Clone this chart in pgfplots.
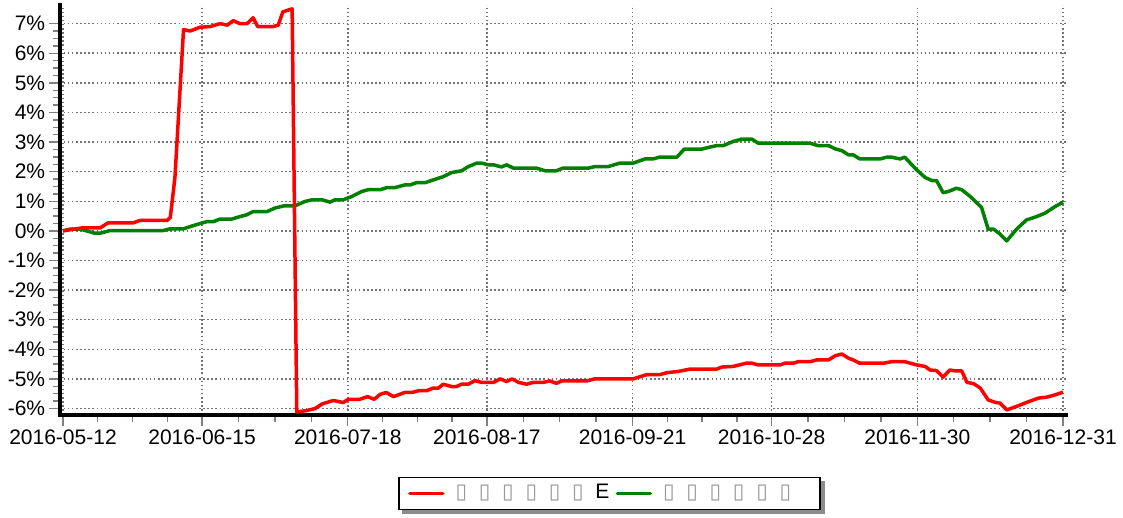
\documentclass[border=0pt]{standalone}
\usepackage{pgfplots}
\pgfplotsset{compat=1.18}
\usepackage{fontspec}
\setmainfont{Liberation Sans}
\newfontfamily\dejavu{DejaVu Sans}
\pgfdeclarelayer{background}
\pgfsetlayers{background,main}
\definecolor{cred}{RGB}{255,0,0}
\definecolor{cgreen}{RGB}{0,128,0}
\newcommand\tofu{\makebox[23.3pt][l]{\textcolor{black!40}{\dejavu ▯}}}
\begin{document}
\begin{tikzpicture}[font=\fontsize{21}{25}\selectfont]
\begin{axis}[
  name=ax,
  scale only axis,
  width=1006.7pt, height=410pt,
  xmin=-0.5, xmax=151.5, ymin=-6.22, ymax=7.63,
  axis x line*=bottom, axis y line*=left,
  axis line style={line width=4pt, black, -, line cap=rect},
  x axis line style={-}, y axis line style={-},
  xtick={0,21,43,64,86,107,129,151},
  xticklabels={2016-05-12,2016-06-15,2016-07-18,2016-08-17,2016-09-21,2016-10-28,2016-11-30,2016-12-31},
  minor xtick={5.25,10.5,15.75,26.5,32,37.5,48.25,53.5,58.75,69.5,75,80.5,91.25,96.5,101.75,112.5,118,123.5,134.5,140,145.5},
  ytick={-6,-5,-4,-3,-2,-1,0,1,2,3,4,5,6,7},
  yticklabels={-6\%,-5\%,-4\%,-3\%,-2\%,-1\%,0\%,1\%,2\%,3\%,4\%,5\%,6\%,7\%},
  minor y tick num=3,
  tick align=outside,
  major tick length=11pt, minor tick length=7pt,
  tick style={black!50, line width=1.4pt},
  tick label style={font=\fontsize{21}{25}\selectfont},
  grid=major,
  major grid style={black!55, line width=1.5pt, dash pattern=on 1.5pt off 2.6pt},
  legend columns=2,
  reverse legend,
  legend cell align=left,
  legend image code/.code={\draw[#1, line width=3.5pt, line cap=round] (0pt,0pt) -- (33pt,0pt);},
  legend style={name=leg, at={(0.5463,-0.192)}, anchor=center, draw=black, line width=1.5pt, fill=white,
    inner xsep=9pt, inner ysep=7pt,
    nodes={inner sep=0pt, text height=14pt, text depth=4pt},
    /tikz/every odd column/.append style={column sep=11pt},
    /tikz/every even column/.append style={column sep=8pt},
    font=\fontsize{21}{25}\selectfont},
]
\addplot[cgreen, line width=3.5pt, line join=round] coordinates {
(0,0) (1.1,0.06) (2.6,0.06) (4.8,-0.08) (5.6,-0.08) (7.1,0.01) (15.1,0.01) (16.2,0.07) (18.2,0.07) (19.7,0.18) (21.7,0.31) (22.7,0.31) (23.7,0.4) (25.5,0.4) (26.7,0.48) (27.7,0.54) (28.7,0.65) (30.8,0.65) (32.0,0.77) (33.3,0.84) (35.0,0.84) (36.5,0.99) (37.6,1.05) (39.1,1.05) (40.3,0.97) (41.1,1.05) (42.3,1.05) (43.6,1.16) (45.1,1.33) (46.1,1.39) (47.9,1.39) (48.9,1.46) (50.1,1.46) (51.6,1.55) (52.4,1.55) (53.4,1.63) (54.7,1.63) (55.9,1.72) (57.4,1.83) (58.7,1.97) (60.2,2.03) (61.2,2.17) (62.5,2.29) (63.2,2.29) (64.2,2.23) (65.0,2.23) (66.2,2.16) (67.0,2.23) (68.0,2.12) (71.5,2.12) (72.8,2.03) (74.5,2.03) (75.5,2.12) (79.3,2.12) (80.3,2.17) (82.3,2.17) (84.1,2.29) (86.1,2.29) (87.9,2.43) (89.1,2.43) (90.1,2.49) (92.7,2.49) (93.8,2.76) (96.4,2.76) (97.7,2.83) (98.7,2.88) (99.7,2.88) (101.2,3.02) (102.5,3.1) (104.0,3.1) (105.0,2.96) (112.8,2.96) (114.0,2.88) (115.6,2.88) (116.6,2.77) (117.6,2.71) (118.6,2.57) (119.3,2.57) (120.3,2.43) (123.4,2.43) (124.4,2.49) (125.1,2.49) (126.4,2.43) (127.1,2.49) (128.9,2.06) (130.2,1.8) (131.2,1.7) (131.9,1.7) (132.9,1.29) (133.7,1.33) (134.9,1.44) (135.7,1.39) (137.0,1.16) (138.7,0.79) (139.7,0.06) (140.5,0.06) (141.5,-0.11) (142.5,-0.34) (144.0,0.06) (145.5,0.37) (147.0,0.48) (148.3,0.6) (149.8,0.82) (151.0,0.97)
};
\addlegendentry{\makebox[148pt][l]{\tofu\tofu\tofu\tofu\tofu\tofu}}
\addplot[cred, line width=3.5pt, line join=round] coordinates {
(0,0) (2.9,0.1) (5.6,0.1) (6.8,0.27) (10.6,0.27) (11.6,0.35) (15.7,0.35) (16.2,0.45) (16.9,1.8) (18.2,6.8) (19.2,6.75) (20.7,6.88) (22.2,6.9) (23.7,7.0) (24.8,6.95) (25.7,7.1) (26.7,7.0) (27.8,7.0) (28.7,7.2) (29.4,6.9) (31.7,6.9) (32.5,6.95) (33.2,7.4) (34.6,7.5) (35.3,-6.12) (36.8,-6.07) (38.1,-6.0) (39.1,-5.85) (40.8,-5.73) (42.3,-5.8) (43.1,-5.69) (44.8,-5.69) (46.0,-5.6) (47.0,-5.69) (47.9,-5.52) (48.8,-5.46) (49.9,-5.6) (51.6,-5.46) (52.7,-5.46) (53.7,-5.4) (54.9,-5.4) (55.9,-5.31) (56.7,-5.31) (57.4,-5.18) (58.7,-5.26) (59.4,-5.26) (60.2,-5.18) (61.2,-5.18) (62.2,-5.06) (63.2,-5.12) (65.0,-5.12) (66.0,-5.0) (67.0,-5.09) (67.8,-5.0) (68.8,-5.12) (70.0,-5.18) (71.0,-5.12) (72.5,-5.12) (73.5,-5.07) (74.5,-5.15) (75.3,-5.07) (79.1,-5.07) (80.3,-5.0) (86.1,-5.0) (88.1,-4.86) (90.1,-4.86) (91.2,-4.79) (92.9,-4.75) (94.7,-4.67) (98.7,-4.67) (99.5,-4.6) (101.2,-4.58) (103.2,-4.47) (104.0,-4.47) (105.0,-4.53) (108.3,-4.53) (109.0,-4.47) (110.3,-4.47) (111.0,-4.42) (112.8,-4.42) (113.8,-4.36) (115.6,-4.36) (116.6,-4.22) (117.6,-4.16) (118.6,-4.3) (119.3,-4.36) (120.3,-4.47) (123.9,-4.47) (125.1,-4.42) (127.1,-4.42) (128.9,-4.53) (130.2,-4.58) (130.9,-4.7) (131.9,-4.72) (132.9,-4.94) (133.9,-4.7) (134.7,-4.73) (135.7,-4.73) (136.5,-5.12) (137.5,-5.16) (138.5,-5.31) (139.7,-5.71) (140.7,-5.79) (141.5,-5.82) (142.5,-6.05) (144.0,-5.93) (145.8,-5.77) (147.3,-5.65) (148.5,-5.62) (149.8,-5.54) (151.0,-5.45)
};
\addlegendentry{\makebox[152pt][l]{\tofu\tofu\tofu\tofu\tofu\tofu E}}
\end{axis}
\begin{pgfonlayer}{background}
\fill[black!45] ([shift={(4pt,-4pt)}]leg.south west) rectangle ([shift={(4pt,-4pt)}]leg.north east);
\end{pgfonlayer}
\pgfresetboundingbox
\path ([shift={(-59.7pt,-103pt)}]ax.south west) rectangle ([shift={(56.7pt,5pt)}]ax.north east);
\end{tikzpicture}
\end{document}
